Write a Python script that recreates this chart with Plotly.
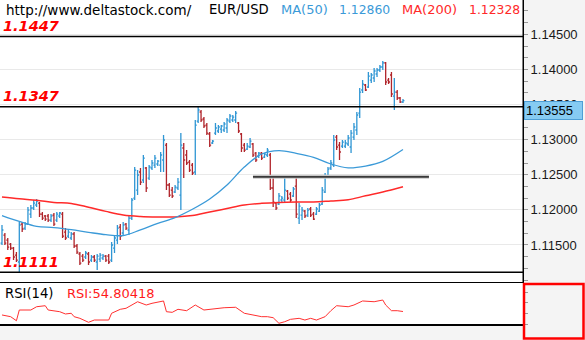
import plotly.graph_objects as go

# ---- EUR/USD daily bars -------------------------------------------------
opens = [
    1.11527, 1.11641, 1.11570, 1.11513, 1.11456, 1.11356, 1.11257, 1.11798, 1.11741, 1.11798,
    1.11940, 1.12026, 1.12069, 1.12097, 1.11940, 1.11912, 1.11912, 1.11855, 1.11926, 1.11855,
    1.11912, 1.11940, 1.11684, 1.11627, 1.11599, 1.11656, 1.11485, 1.11371, 1.11342, 1.11328,
    1.11371, 1.11285, 1.11328, 1.11257, 1.11299, 1.11314, 1.11342, 1.11342, 1.11285, 1.11456,
    1.11570, 1.11755, 1.11670, 1.11798, 1.11713, 1.11883,
    1.12168, 1.12282, 1.12539, 1.12425, 1.12596, 1.12453, 1.12596, 1.12638, 1.12653, 1.12638,
    1.12710, 1.12923, 1.12354, 1.12282, 1.12254, 1.12311, 1.12211, 1.12881, 1.12781, 1.12681,
    1.12638, 1.12539,
    1.13265, 1.13394, 1.13294, 1.13208, 1.13080, 1.12952, 1.13094, 1.13123, 1.13151, 1.13137,
    1.13166, 1.13265, 1.13280, 1.13280, 1.13237, 1.13080, 1.12923, 1.12866, 1.12895, 1.12938,
    1.12809, 1.12767, 1.12809, 1.12752, 1.12781,
    1.12781, 1.12311, 1.12097, 1.12083, 1.12140, 1.12140, 1.12268, 1.12225, 1.12197, 1.12339,
    1.11883, 1.11926, 1.11983, 1.11926, 1.12012, 1.11940, 1.11940, 1.11983, 1.12083, 1.12254,
    1.12482, 1.12596,
    1.12638, 1.13037, 1.12923, 1.12909, 1.12909, 1.12938, 1.12895, 1.13037, 1.13137, 1.13379,
    1.13707, 1.13778, 1.13750, 1.13849, 1.13878, 1.13935, 1.13992, 1.14035, 1.14092, 1.13849,
    1.13921, 1.13621, 1.13678, 1.13593, 1.13536,
]
highs = [
    1.11784, 1.11670, 1.11599, 1.11527, 1.11470, 1.11399, 1.11826, 1.11826, 1.11826, 1.12040,
    1.12069, 1.12140, 1.12154, 1.12111, 1.11969, 1.11926, 1.11940, 1.11940, 1.11955, 1.11969,
    1.11969, 1.11969, 1.11741, 1.11713, 1.11684, 1.11684, 1.11513, 1.11399, 1.11371, 1.11413,
    1.11399, 1.11356, 1.11356, 1.11371, 1.11385, 1.11371, 1.11356, 1.11371, 1.11542, 1.11641,
    1.11784, 1.11798, 1.11826, 1.11812, 1.11926, 1.12168,
    1.12610, 1.12567, 1.12596, 1.12781, 1.12610, 1.12638, 1.12710, 1.12781, 1.12710, 1.12824,
    1.13066, 1.12952, 1.12382, 1.12325, 1.12354, 1.12453, 1.13094, 1.12952, 1.12852, 1.12710,
    1.12667, 1.13280,
    1.13470, 1.13422, 1.13322, 1.13237, 1.13109, 1.12995, 1.13237, 1.13208, 1.13208, 1.13251,
    1.13308, 1.13365, 1.13351, 1.13408, 1.13251, 1.13094, 1.12952, 1.12952, 1.13023, 1.12952,
    1.12824, 1.12824, 1.12824, 1.12809, 1.12881,
    1.12809, 1.12453, 1.12111, 1.12240, 1.12197, 1.12453, 1.12282, 1.12254, 1.12325, 1.12453,
    1.12097, 1.12040, 1.11997, 1.12026, 1.12040, 1.11969, 1.12040, 1.12097, 1.12325, 1.12525,
    1.12610, 1.12710,
    1.13066, 1.13066, 1.12966, 1.12995, 1.12995, 1.13066, 1.13137, 1.13237, 1.13394, 1.13735,
    1.13849, 1.13792, 1.13963, 1.13949, 1.14020, 1.14020, 1.14063, 1.14120, 1.14106, 1.13878,
    1.13963, 1.13878, 1.13707, 1.13607, 1.13579,
]
lows = [
    1.11499, 1.11499, 1.11428, 1.11428, 1.11285, 1.11257, 1.11110, 1.11684, 1.11713, 1.11784,
    1.11883, 1.11997, 1.12040, 1.11898, 1.11855, 1.11841, 1.11826, 1.11826, 1.11769, 1.11826,
    1.11883, 1.11599, 1.11570, 1.11599, 1.11570, 1.11456, 1.11371, 1.11214, 1.11257, 1.11299,
    1.11214, 1.11257, 1.11257, 1.11143, 1.11257, 1.11285, 1.11257, 1.11228, 1.11257, 1.11385,
    1.11513, 1.11570, 1.11641, 1.11713, 1.11641, 1.11855,
    1.12140, 1.12211, 1.12354, 1.12382, 1.12254, 1.12425, 1.12567, 1.12596, 1.12624, 1.12539,
    1.12539, 1.12282, 1.12183, 1.12168, 1.12240, 1.12282, 1.11997, 1.12453, 1.12638, 1.12539,
    1.12496, 1.12496,
    1.13237, 1.13251, 1.13166, 1.13066, 1.12895, 1.12938, 1.13066, 1.13094, 1.13094, 1.13109,
    1.13094, 1.13237, 1.13251, 1.13237, 1.13094, 1.12824, 1.12824, 1.12852, 1.12881, 1.12752,
    1.12681, 1.12738, 1.12710, 1.12738, 1.12752,
    1.12282, 1.12040, 1.11997, 1.12069, 1.12097, 1.12097, 1.12140, 1.12111, 1.12183, 1.11883,
    1.11798, 1.11855, 1.11883, 1.11898, 1.11898, 1.11855, 1.11926, 1.11969, 1.12069, 1.12240,
    1.12468, 1.12567,
    1.12610, 1.12852, 1.12710, 1.12881, 1.12881, 1.12909, 1.12809, 1.12995, 1.13066, 1.13308,
    1.13664, 1.13693, 1.13735, 1.13807, 1.13821, 1.13892, 1.13963, 1.13992, 1.13778, 1.13792,
    1.13607, 1.13422, 1.13565, 1.13522, 1.13522,
]
closes = [
    1.11713, 1.11527, 1.11470, 1.11456, 1.11328, 1.11285, 1.11784, 1.11727, 1.11798, 1.11997,
    1.12026, 1.12097, 1.12126, 1.11940, 1.11883, 1.11869, 1.11855, 1.11912, 1.11798, 1.11940,
    1.11955, 1.11627, 1.11599, 1.11684, 1.11656, 1.11485, 1.11399, 1.11242, 1.11285, 1.11385,
    1.11257, 1.11328, 1.11285, 1.11342, 1.11356, 1.11342, 1.11285, 1.11257, 1.11499, 1.11599,
    1.11741, 1.11627, 1.11784, 1.11741, 1.11883, 1.12140,
    1.12567, 1.12496, 1.12396, 1.12738, 1.12311, 1.12610, 1.12667, 1.12738, 1.12695, 1.12781,
    1.12995, 1.12354, 1.12211, 1.12197, 1.12325, 1.12396, 1.12923, 1.12710, 1.12667, 1.12567,
    1.12525, 1.13208,
    1.13422, 1.13280, 1.13194, 1.13094, 1.12923, 1.12980, 1.13166, 1.13180, 1.13194, 1.13223,
    1.13280, 1.13337, 1.13322, 1.13379, 1.13123, 1.12881, 1.12852, 1.12909, 1.12980, 1.12781,
    1.12710, 1.12809, 1.12738, 1.12795, 1.12852,
    1.12311, 1.12111, 1.12026, 1.12197, 1.12168, 1.12282, 1.12168, 1.12140, 1.12297, 1.11940,
    1.12054, 1.11997, 1.11912, 1.11997, 1.11926, 1.11869, 1.12012, 1.12069, 1.12282, 1.12482,
    1.12581, 1.12667,
    1.12995, 1.12895, 1.12824, 1.12966, 1.12952, 1.13023, 1.13094, 1.13180, 1.13351, 1.13678,
    1.13792, 1.13707, 1.13906, 1.13921, 1.13978, 1.13992, 1.14035, 1.14092, 1.13821, 1.13821,
    1.13650, 1.13678, 1.13593, 1.13536, 1.13555,
]
bars = list(range(len(opens)))

# ---- moving averages, sampled every few bars ---------------------------
ma_bars = [0, 6, 12, 18, 24, 30, 36, 42, 48, 54, 60, 66, 72, 78, 84, 90,
           96, 102, 108, 114, 120, 126, 132, 139]
ma50 = [1.11919, 1.11835, 1.11765, 1.11748, 1.11718, 1.11680, 1.11646, 1.11634,
        1.11715, 1.11808, 1.11889, 1.12008, 1.12154, 1.12354, 1.12610, 1.12795,
        1.12844, 1.12805, 1.12749, 1.12653, 1.12599, 1.12624, 1.12691, 1.12860]
ma200 = [1.12183, 1.12157, 1.12137, 1.12106, 1.12092, 1.12038, 1.11978, 1.11926,
         1.11905, 1.11898, 1.11898, 1.11918, 1.11969, 1.12019, 1.12069, 1.12093,
         1.12106, 1.12111, 1.12111, 1.12126, 1.12143, 1.12200, 1.12253, 1.12328]

# ---- RSI(14) ------------------------------------------------------------
rsi_bars = [0, 3, 5, 6, 10, 12, 15, 16, 20, 22, 24, 25, 27, 30, 32, 37, 38, 41, 43,
            47, 50, 52, 56, 57, 59, 61, 64, 67, 70, 72, 77, 81, 84, 87, 90, 92, 94,
            96, 98, 100, 103, 105, 107, 109, 112, 114, 116, 120, 122, 125, 129, 132,
            133, 135, 137, 139]
rsi = [49.3, 46.6, 40.2, 57.2, 57.2, 62.4, 64.0, 57.2, 54.5, 50.9, 52.0, 46.6, 44.0,
       37.7, 41.3, 41.3, 52.0, 58.3, 59.9, 70.3, 65.1, 67.8, 71.5, 54.5, 53.5, 58.3,
       56.1, 65.1, 57.2, 58.3, 60.8, 61.5, 52.0, 49.3, 46.6, 46.6, 45.0, 36.1, 38.6,
       42.4, 44.0, 41.3, 44.0, 41.3, 46.6, 56.1, 64.0, 62.4, 65.1, 71.5, 70.3, 73.0,
       65.1, 56.1, 56.1, 54.80418]

# ---- price scale ---------------------------------------------------------
price_ticks = [1.115, 1.12, 1.125, 1.13, 1.135, 1.14, 1.145]

# ---- horizontal levels ----------------------------------------------------
levels = [1.1447, 1.1347, 1.1111]
level_labels = ["1.1447", "1.1347", "1.1111"]
mid_level = 1.1247
mid_level_bars = (87, 148)

symbol = "EUR/USD"
ma50_last = "1.12860"
ma200_last = "1.12328"
last_price = "1.13555"

W, H = 585, 340
BLUE_BAR = "#2f96d4"
RED_BAR = "#b0242a"
MA50_C = "#3b9ad8"
MA200_C = "#ff2a2a"

fig = go.Figure()

fig.add_trace(go.Ohlc(
    x=bars, open=opens, high=highs, low=lows, close=closes,
    increasing=dict(line=dict(color=BLUE_BAR, width=1.3)),
    decreasing=dict(line=dict(color=RED_BAR, width=1.3)),
    tickwidth=0.5, hoverinfo="skip", xaxis="x", yaxis="y",
))
fig.add_trace(go.Scatter(
    x=ma_bars, y=ma200, mode="lines", line=dict(color=MA200_C, width=1.5, shape="spline"),
    hoverinfo="skip", xaxis="x", yaxis="y",
))
fig.add_trace(go.Scatter(
    x=ma_bars, y=ma50, mode="lines", line=dict(color=MA50_C, width=1.3, shape="spline"),
    hoverinfo="skip", xaxis="x", yaxis="y",
))
fig.add_trace(go.Scatter(
    x=rsi_bars, y=rsi, mode="lines", line=dict(color="#ff3030", width=1),
    hoverinfo="skip", xaxis="x2", yaxis="y2",
))

main_dom = [1 - 283 / H, 1]
rsi_dom = [1 - 324 / H, 1 - 283 / H]
x_dom = [0, 523 / W]
x_range = [-0.69, 180.6]

fig.update_layout(
    width=W, height=H, margin=dict(l=0, r=0, t=0, b=0),
    paper_bgcolor="#f4f4f4", plot_bgcolor="#ffffff",
    showlegend=False,
    xaxis=dict(domain=x_dom, range=x_range, showgrid=False, zeroline=False,
               showticklabels=False, ticks="", rangeslider=dict(visible=False),
               anchor="y"),
    yaxis=dict(domain=main_dom, range=[1.10958, 1.14989], side="right",
               showline=True, linecolor="#000", linewidth=1,
               tickmode="array", tickvals=price_ticks, tickformat=".5f",
               ticks="outside", ticklen=4, tickcolor="#999",
               tickfont=dict(family="Liberation Sans", size=13, color="#1a1a1a"),
               showgrid=True, gridcolor="#e9e9e9", gridwidth=1, zeroline=False,
               minor=dict(tick0=1.1, dtick=0.005 / 3, ticks="outside", ticklen=4,
                          tickcolor="#999", showgrid=False),
               anchor="x"),
    xaxis2=dict(domain=x_dom, range=x_range, showgrid=False, zeroline=False,
                showticklabels=False, ticks="", showline=True, mirror=True,
                linecolor="#000", linewidth=1.5, anchor="y2"),
    yaxis2=dict(domain=rsi_dom, range=[35, 100], side="right", showgrid=False,
                zeroline=False, showticklabels=False, tick0=35, dtick=16.8,
                ticks="outside", ticklen=4, tickcolor="#999", showline=False,
                anchor="x2"),
)

# support / resistance levels across the main panel
for lv, lab in zip(levels, level_labels):
    fig.add_shape(type="line", xref="x domain", yref="y", x0=0, x1=1, y0=lv, y1=lv,
                  line=dict(color="#000", width=1.5))
    fig.add_annotation(xref="paper", yref="y", x=2 / W, y=lv, xanchor="left",
                       yanchor="middle", yshift=10.5, text=f"<b><i>{lab}</i></b>",
                       showarrow=False, borderpad=0,
                       font=dict(family="DejaVu Sans", size=14.5, color="#ff0000"))

# the mid-range level with its soft shadow
fig.add_shape(type="line", xref="x", yref="y", x0=mid_level_bars[0], x1=mid_level_bars[1],
              y0=mid_level, y1=mid_level, line=dict(color="#c8c8c8", width=4))
fig.add_shape(type="line", xref="x", yref="y", x0=mid_level_bars[0], x1=mid_level_bars[1],
              y0=mid_level, y1=mid_level, line=dict(color="#3a3a3a", width=1.6))

# right edge line of the main panel
fig.add_shape(type="line", xref="paper", yref="paper", x0=523 / W, x1=523 / W,
              y0=main_dom[0], y1=1, line=dict(color="#000", width=1))

# highlighted RSI scale
fig.add_shape(type="rect", xref="paper", yref="paper", x0=524 / W, x1=583.5 / W,
              y0=1 - 338.5 / H, y1=1 - 284 / H, line=dict(color="#ff0000", width=2.5))

# last price tag
fig.add_annotation(xref="paper", yref="y", x=523.5 / W, y=float(last_price), xanchor="left",
                   yanchor="top", text=last_price, showarrow=False, width=55, align="left",
                   bgcolor="#86cbf2", bordercolor="#4e9fd6", borderwidth=1, borderpad=1,
                   font=dict(family="Liberation Sans", size=13, color="#000"))

# header line
head_font = "DejaVu Sans"
header = [
    ("http://www.deltastock.com/", 5, "#000", 13.5),
    (symbol, 208, "#000", 13.2),
    ("MA(50)", 280, MA50_C, 13),
    (ma50_last, 338, MA50_C, 12.4),
    ("MA(200)", 401, MA200_C, 13),
    (ma200_last, 468, MA200_C, 12.4),
]
for txt, px, col, fs in header:
    fig.add_annotation(xref="paper", yref="paper", x=px / W, y=1 - 9.5 / H, xanchor="left",
                       yanchor="middle", text=txt, showarrow=False, borderpad=0,
                       font=dict(family=head_font, size=fs, color=col))

fig.add_annotation(xref="paper", yref="paper", x=4 / W, y=1 - 293 / H, xanchor="left",
                   yanchor="middle", text="RSI(14)", showarrow=False, borderpad=0,
                   font=dict(family=head_font, size=13.2, color="#000"))
fig.add_annotation(xref="paper", yref="paper", x=66 / W, y=1 - 293 / H, xanchor="left",
                   yanchor="middle", text=f"RSI:{rsi[-1]:.5f}", showarrow=False, borderpad=0,
                   font=dict(family=head_font, size=13, color="#ff1a1a"))

fig.write_html("out.html", config={"displayModeBar": False, "staticPlot": True})
